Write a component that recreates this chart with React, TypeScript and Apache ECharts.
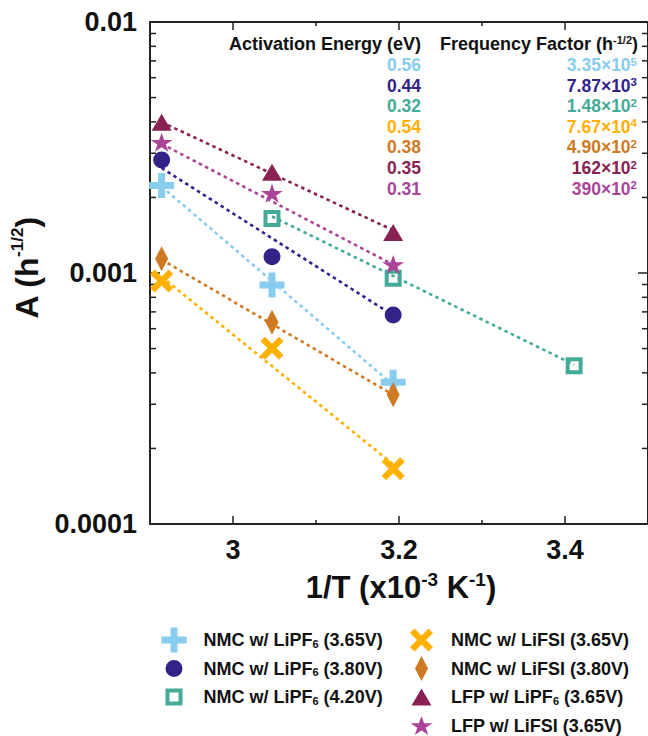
import React, { useEffect, useRef } from 'react';
import * as echarts from 'echarts';

// ---------- data ----------
const seriesNames = [
  'NMC w/ LiPF6 (3.65V)',
  'NMC w/ LiPF6 (3.80V)',
  'NMC w/ LiPF6 (4.20V)',
  'NMC w/ LiFSI (3.65V)',
  'NMC w/ LiFSI (3.80V)',
  'LFP w/ LiPF6 (3.65V)',
  'LFP w/ LiFSI (3.65V)',
];
const colors = ['#88CCEE', '#332288', '#44AA99', '#FFB000', '#CD7A23', '#882255', '#AA4499'];

// 1/T (x10^-3 K^-1) measurement temperatures
const invT = [2.914, 3.047, 3.193, 3.411];

// A (h^-1/2) per series, aligned with invT (null = not measured)
const nmcPF6_365 = [0.00223, 0.000896, 0.000367, null];
const nmcPF6_380 = [0.00282, 0.00116, 0.00068, null];
const nmcPF6_420 = [null, 0.00165, 0.000953, 0.000427];
const nmcFSI_365 = [0.00093, 0.000501, 0.000166, null];
const nmcFSI_380 = [0.00114, 0.000636, 0.000327, null];
const lfpPF6_365 = [0.00399, 0.00252, 0.00145, null];
const lfpFSI_365 = [0.00332, 0.00208, 0.00108, null];
const seriesValues = [nmcPF6_365, nmcPF6_380, nmcPF6_420, nmcFSI_365, nmcFSI_380, lfpPF6_365, lfpFSI_365];

// Arrhenius fit lines (start / end)
const fitX = [
  [2.914, 3.193],
  [2.914, 3.193],
  [3.047, 3.411],
  [2.914, 3.193],
  [2.914, 3.193],
  [2.914, 3.193],
  [2.914, 3.193],
];
const fitY = [
  [0.00221, 0.000358],
  [0.00262, 0.000678],
  [0.00168, 0.000431],
  [0.000966, 0.000173],
  [0.00113, 0.000327],
  [0.00399, 0.00148],
  [0.00327, 0.00108],
];

// table of fitted parameters
const activationEnergy = ['0.56', '0.44', '0.32', '0.54', '0.38', '0.35', '0.31'];
const freqMantissa = ['3.35', '7.87', '1.48', '7.67', '4.90', '162', '390'];
const freqExponent = ['5', '3', '2', '4', '2', '2', '2'];

// axes
const xMin = 2.9;
const xMax = 3.5;
const xTickValues = [3, 3.2, 3.4];
const xMinorTicks = [3.1, 3.3];
const yMin = 0.0001;
const yMax = 0.01;
const yTickLabels = ['0.0001', '0.001', '0.01'];
const yMinorTicks = [
  0.0002, 0.0003, 0.0004, 0.0005, 0.0006, 0.0007, 0.0008, 0.0009,
  0.002, 0.003, 0.004, 0.005, 0.006, 0.007, 0.008, 0.009,
];

// ---------- symbols (25x25 boxes) ----------
const symbols = [
  'path://M0,0M25,25M9,0H16V9H25V16H16V25H9V16H0V9H9Z',
  'path://M0,0M25,25M4,12.5A8.5,8.5,0,1,0,21,12.5A8.5,8.5,0,1,0,4,12.5Z',
  'path://M0,0M25,25M4,4H21V21H4ZM8,8V17H17V8Z',
  'path://M0,0M25,25M1,5.5L5.5,1L12.5,8L19.5,1L24,5.5L17,12.5L24,19.5L19.5,24L12.5,17L5.5,24L1,19.5L8,12.5Z',
  'path://M0,0M25,25M12.5,0L19,12.5L12.5,25L6,12.5Z',
  'path://M0,0M25,25M12.5,4L22.5,21L2.5,21Z',
  'path://M0,0M25,25M12.5,3L15.08,10.26L23.45,10.26L16.68,14.75L19.26,22L12.5,17.52L5.74,22L8.32,14.75L1.55,10.26L9.92,10.26Z',
];

const FONT = '"Liberation Sans", Arial, Helvetica, sans-serif';
const INK = '#111';
const AXIS = '#222';

export default function App() {
  const ref = useRef<HTMLDivElement>(null);

  useEffect(() => {
    if (!ref.current) return;
    const chart = echarts.init(ref.current, undefined, { renderer: 'svg' });

    const scatterSeries = seriesNames.map((name, i) => ({
      name,
      type: 'scatter',
      xAxisIndex: 0,
      yAxisIndex: 0,
      symbol: symbols[i],
      symbolSize: 25,
      itemStyle: { color: colors[i], opacity: 1 },
      z: 5,
      data: invT
        .map((x, k) => (seriesValues[i][k] == null ? null : [x, seriesValues[i][k]]))
        .filter((d) => d !== null),
    }));

    const fitSeries = seriesNames.map((name, i) => ({
      name: 'fit ' + name,
      type: 'line',
      xAxisIndex: 0,
      yAxisIndex: 0,
      symbol: 'none',
      showSymbol: false,
      z: 2,
      lineStyle: { color: colors[i], width: 2.6, type: [3.5, 3.5] },
      data: [
        [fitX[i][0], fitY[i][0]],
        [fitX[i][1], fitY[i][1]],
      ],
    }));

    const tickStyle = { stroke: AXIS, lineWidth: 1.5 };
    const minorYSeries = {
      type: 'custom',
      xAxisIndex: 0,
      yAxisIndex: 0,
      silent: true,
      clip: false,
      z: 1,
      data: yMinorTicks.map((v) => [xTickValues[0], v]),
      renderItem: (params: any, api: any) => {
        const cs = params.coordSys;
        const y = api.coord([api.value(0), api.value(1)])[1];
        return {
          type: 'group',
          children: [
            { type: 'line', shape: { x1: cs.x, y1: y, x2: cs.x + 6, y2: y }, style: tickStyle },
            { type: 'line', shape: { x1: cs.x + cs.width - 6, y1: y, x2: cs.x + cs.width, y2: y }, style: tickStyle },
          ],
        };
      },
    };
    const minorXSeries = {
      type: 'custom',
      xAxisIndex: 0,
      yAxisIndex: 0,
      silent: true,
      clip: false,
      z: 1,
      data: xMinorTicks.map((v) => [v, 0.001]),
      renderItem: (params: any, api: any) => {
        const cs = params.coordSys;
        const x = api.coord([api.value(0), api.value(1)])[0];
        return {
          type: 'group',
          children: [
            { type: 'line', shape: { x1: x, y1: cs.y + cs.height, x2: x, y2: cs.y + cs.height - 4 }, style: tickStyle },
            { type: 'line', shape: { x1: x, y1: cs.y, x2: x, y2: cs.y + 4 }, style: tickStyle },
          ],
        };
      },
    };

    const legendFormatter = (name: string) => name.replace('LiPF6', 'LiPF{sub|6}');
    const legendText = {
      fontFamily: FONT,
      fontWeight: 'bold',
      fontSize: 18,
      color: INK,
      padding: [0, 0, 0, 12],
      rich: {
        sub: {
          fontFamily: FONT,
          fontWeight: 'bold',
          fontSize: 11,
          color: INK,
          lineHeight: 11,
          verticalAlign: 'bottom',
        },
      },
    };

    // table graphics
    const rowY0 = 65;
    const rowStep = 20.6;
    const tableTexts: any[] = [];
    tableTexts.push({
      type: 'text',
      x: 421,
      y: 44,
      style: {
        text: 'Activation Energy (eV)',
        fill: INK,
        fontFamily: FONT,
        fontWeight: 'bold',
        fontSize: 18,
        align: 'right',
        verticalAlign: 'middle',
      },
    });
    tableTexts.push({
      type: 'text',
      x: 638,
      y: 44,
      style: {
        text: '{h|Frequency Factor (h}{s|-1/2}{h|)}',
        align: 'right',
        verticalAlign: 'middle',
        rich: {
          h: { fill: INK, fontFamily: FONT, fontWeight: 'bold', fontSize: 18, lineHeight: 20 },
          s: { fill: INK, fontFamily: FONT, fontWeight: 'bold', fontSize: 11, lineHeight: 11, verticalAlign: 'top' },
        },
      },
    });
    seriesNames.forEach((_, i) => {
      const y = rowY0 + rowStep * i;
      tableTexts.push({
        type: 'text',
        x: 421,
        y,
        style: {
          text: activationEnergy[i],
          fill: colors[i],
          fontFamily: FONT,
          fontWeight: 'bold',
          fontSize: 17.5,
          align: 'right',
          verticalAlign: 'middle',
        },
      });
      tableTexts.push({
        type: 'text',
        x: 637,
        y,
        style: {
          text: `{v|${freqMantissa[i]}×10}{s|${freqExponent[i]}}`,
          align: 'right',
          verticalAlign: 'middle',
          rich: {
            v: { fill: colors[i], fontFamily: FONT, fontWeight: 'bold', fontSize: 17.5, lineHeight: 19 },
            s: { fill: colors[i], fontFamily: FONT, fontWeight: 'bold', fontSize: 11.5, lineHeight: 11.5, verticalAlign: 'top' },
          },
        },
      });
    });

    const axisTitles = [
      {
        type: 'text',
        x: 27,
        y: 268,
        rotation: Math.PI / 2,
        style: {
          text: '{t|A (h}{s|-1/2}{t|)}',
          align: 'center',
          verticalAlign: 'middle',
          rich: {
            t: { fill: INK, fontFamily: FONT, fontWeight: 'bold', fontSize: 32, lineHeight: 36 },
            s: { fill: INK, fontFamily: FONT, fontWeight: 'bold', fontSize: 17, lineHeight: 17, verticalAlign: 'top' },
          },
        },
      },
      {
        type: 'text',
        x: 401,
        y: 587,
        style: {
          text: '{t|1/T (x10}{s|-3}{t| K}{s|-1}{t|)}',
          align: 'center',
          verticalAlign: 'middle',
          rich: {
            t: { fill: INK, fontFamily: FONT, fontWeight: 'bold', fontSize: 31, lineHeight: 35 },
            s: { fill: INK, fontFamily: FONT, fontWeight: 'bold', fontSize: 19, lineHeight: 19, verticalAlign: 'top' },
          },
        },
      },
    ];

    const baseX = {
      type: 'value',
      min: xMin,
      max: xMax,
      gridIndex: 0,
      splitLine: { show: false },
      axisLine: { show: true, onZero: false, lineStyle: { color: AXIS, width: 2 } },
      axisTick: { show: true, inside: true, length: 8, customValues: xTickValues, lineStyle: { color: AXIS, width: 1.5 } },
    };
    const baseY = {
      type: 'log',
      logBase: 10,
      min: yMin,
      max: yMax,
      gridIndex: 0,
      splitLine: { show: false },
      minorTick: { show: false },
      axisLine: { show: true, onZero: false, lineStyle: { color: AXIS, width: 2 } },
      axisTick: { show: true, inside: true, length: 10, lineStyle: { color: AXIS, width: 1.5 } },
    };

    const legendBase = {
      top: 627.5,
      height: 140,
      padding: 0,
      orient: 'vertical',
      itemWidth: 25,
      itemHeight: 25,
      itemGap: 3.5,
      selectedMode: false,
      formatter: legendFormatter,
      textStyle: legendText,
    };

    chart.setOption({
      animation: false,
      backgroundColor: '#fff',
      grid: { left: 150, top: 22, width: 501, height: 502, containLabel: false },
      xAxis: [
        {
          ...baseX,
          position: 'bottom',
          axisLabel: {
            show: true,
            customValues: xTickValues,
            margin: 12,
            fontFamily: FONT,
            fontWeight: 'bold',
            fontSize: 27,
            color: INK,
            formatter: (v: number) => String(Math.round(v * 10) / 10),
          },
        },
        { ...baseX, position: 'top', axisLabel: { show: false } },
      ],
      yAxis: [
        {
          ...baseY,
          position: 'left',
          axisLabel: {
            show: true,
            margin: 13,
            fontFamily: FONT,
            fontWeight: 'bold',
            fontSize: 27,
            color: INK,
            formatter: (v: number) => yTickLabels[Math.round(Math.log10(v)) + 4] ?? '',
          },
        },
        { ...baseY, position: 'right', axisLabel: { show: false } },
      ],
      legend: [
        {
          ...legendBase,
          left: 161.5,
          data: seriesNames.slice(0, 3).map((n, k) => ({ name: n, icon: symbols[k] })),
        },
        {
          ...legendBase,
          left: 409,
          data: seriesNames.slice(3).map((n, k) => ({ name: n, icon: symbols[k + 3] })),
        },
      ],
      graphic: [...tableTexts, ...axisTitles],
      series: [...fitSeries, ...scatterSeries, minorYSeries, minorXSeries],
    });

    return () => chart.dispose();
  }, []);

  return (
    <div
      ref={ref}
      style={{ position: 'fixed', left: 0, top: 0, width: 648, height: 736, background: '#fff' }}
    />
  );
}
